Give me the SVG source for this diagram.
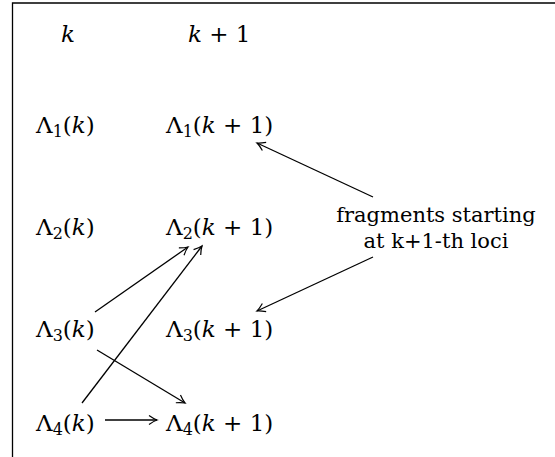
<svg xmlns="http://www.w3.org/2000/svg" width="555" height="457" viewBox="0 0 555 457">
<style>
text{fill:#000}
.m{font-size:23px}
.i{font-style:italic}
.s{font-size:16px}
.t{font-size:21px}
.c{stroke:#000;stroke-width:1.3;fill:none;marker-end:url(#a)}
</style>
<defs>
<marker id="a" viewBox="-10 -6 12 12" refX="0" refY="0" markerWidth="12" markerHeight="12" markerUnits="userSpaceOnUse" orient="auto">
<path d="M-8,-4.5 Q-3,-1 0,0 Q-3,1 -8,4.5" fill="none" stroke="#000" stroke-width="1.2"/>
</marker>
</defs>
<rect width="555" height="457" fill="#fff"/>
<path d="M12.5,457 V3 H555" fill="none" stroke="#000" stroke-width="1.3"/>
<g font-family="DejaVu Serif, Liberation Serif, serif">
<g id="hk"><text class="m i" x="61" y="42">k</text></g>
<g id="hk1"><text class="m" x="188" y="42"><tspan class="i">k</tspan> + 1</text></g>
<g id="L1k"><text class="m" x="36" y="133">Λ<tspan class="s" dy="4">1</tspan><tspan dy="-4">(</tspan><tspan class="i">k</tspan>)</text></g>
<g id="L1k1"><text class="m" x="166" y="133">Λ<tspan class="s" dy="4">1</tspan><tspan dy="-4">(</tspan><tspan class="i">k</tspan> + 1)</text></g>
<g id="L2k"><text class="m" x="36" y="235">Λ<tspan class="s" dy="4">2</tspan><tspan dy="-4">(</tspan><tspan class="i">k</tspan>)</text></g>
<g id="L2k1"><text class="m" x="166" y="235">Λ<tspan class="s" dy="4">2</tspan><tspan dy="-4">(</tspan><tspan class="i">k</tspan> + 1)</text></g>
<g id="L3k"><text class="m" x="36" y="337">Λ<tspan class="s" dy="4">3</tspan><tspan dy="-4">(</tspan><tspan class="i">k</tspan>)</text></g>
<g id="L3k1"><text class="m" x="166" y="337">Λ<tspan class="s" dy="4">3</tspan><tspan dy="-4">(</tspan><tspan class="i">k</tspan> + 1)</text></g>
<g id="L4k"><text class="m" x="36" y="431">Λ<tspan class="s" dy="4">4</tspan><tspan dy="-4">(</tspan><tspan class="i">k</tspan>)</text></g>
<g id="L4k1"><text class="m" x="166" y="431">Λ<tspan class="s" dy="4">4</tspan><tspan dy="-4">(</tspan><tspan class="i">k</tspan> + 1)</text></g>
<g id="note"><text class="t" x="436" y="222" text-anchor="middle">fragments starting</text><text class="t" x="436" y="248" text-anchor="middle">at k+1-th loci</text></g>
</g>
<g id="connectors">
<path class="c" d="M373,197 L257,143"/>
<path class="c" d="M373,257 L257,311"/>
<path class="c" d="M95,312 L188,247"/>
<path class="c" d="M82,403 L202,246"/>
<path class="c" d="M97,350 L185,403"/>
<path class="c" d="M105,420 L157,420"/>
</g>
</svg>
